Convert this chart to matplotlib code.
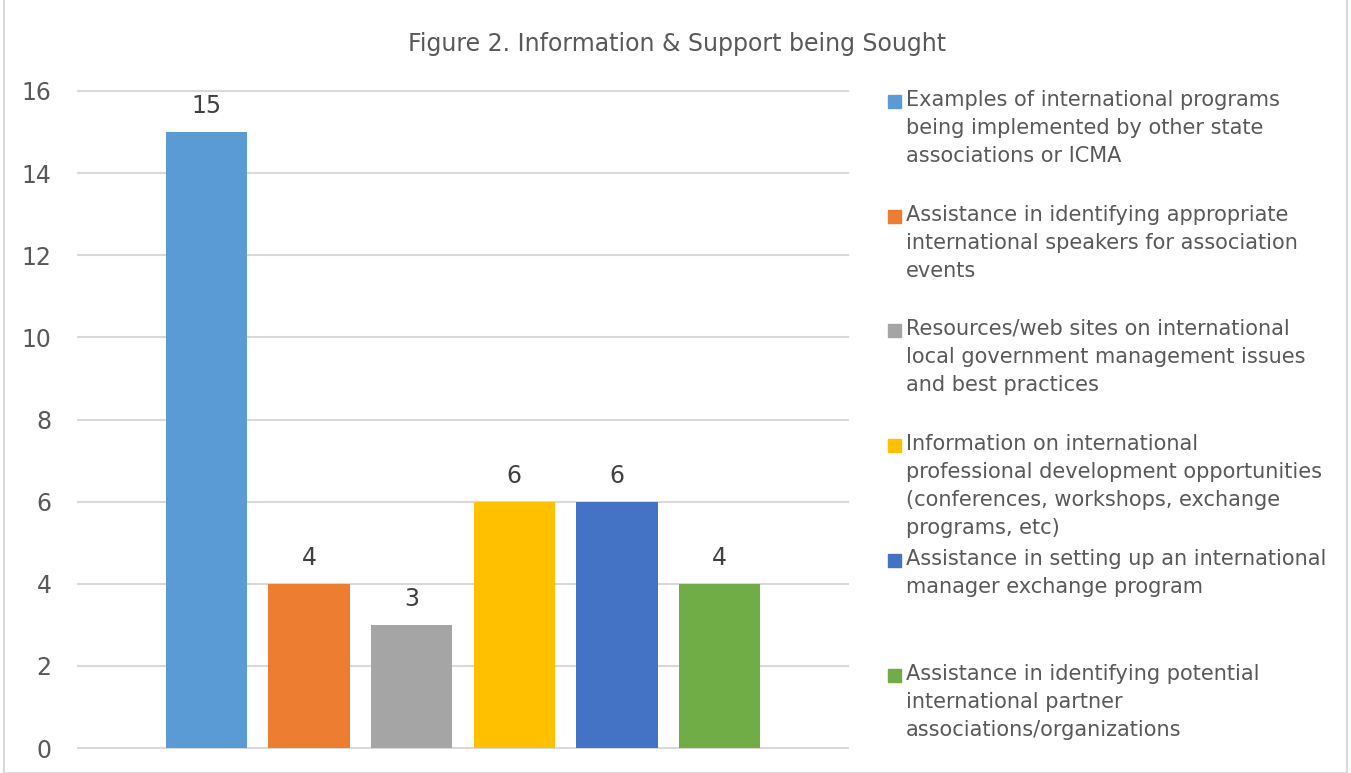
import matplotlib
matplotlib.use("Agg")
import matplotlib.pyplot as plt
from matplotlib.patches import Rectangle

# data
categories = [
    "Examples of international programs\nbeing implemented by other state\nassociations or ICMA",
    "Assistance in identifying appropriate\ninternational speakers for association\nevents",
    "Resources/web sites on international\nlocal government management issues\nand best practices",
    "Information on international\nprofessional development opportunities\n(conferences, workshops, exchange\nprograms, etc)",
    "Assistance in setting up an international\nmanager exchange program",
    "Assistance in identifying potential\ninternational partner\nassociations/organizations",
]
values = [15, 4, 3, 6, 6, 4]
colors = ["#5B9BD5", "#ED7D31", "#A5A5A5", "#FFC000", "#4472C4", "#70AD47"]
yticks = [0, 2, 4, 6, 8, 10, 12, 14, 16]

W, H = 1351, 773
txt = "#595959"
plt.rcParams['font.family'] = ['DejaVu Sans']

fig = plt.figure(figsize=(W / 100, H / 100), dpi=100)
ax = fig.add_axes([78 / W, (H - 748) / H, (848 - 78) / W, (748 - 91) / H])

x = list(range(len(values)))
bars = ax.bar(x, values, width=0.79, color=colors, zorder=3)
for b, v in zip(bars, values):
    ax.annotate(str(v), (b.get_x() + b.get_width() / 2, v), xytext=(0, 10),
                textcoords="offset points", ha="center", va="bottom",
                fontsize=17, color="#404040")

ax.set_xlim(-1.25, 6.25)
ax.set_ylim(0, 16)
ax.set_yticks(yticks)
ax.set_xticks([])
ax.yaxis.grid(True, color="#D9D9D9", linewidth=1.5, zorder=0)
for gl in ax.get_ygridlines():
    gl.set_clip_on(False)
ax.tick_params(axis="y", length=0, pad=19, labelsize=17, labelcolor=txt)
for s in ax.spines.values():
    s.set_visible(False)

fig.text(677 / W, 1 - 44 / H, "Figure 2. Information & Support being Sought",
         ha="center", va="center", fontsize=17, color=txt)

# legend drawn by hand so every entry starts on an even step
first_lines = [102, 217, 331, 446, 561, 676]
for lab, col, yy in zip(categories, colors, first_lines):
    fig.patches.append(Rectangle((888 / W, 1 - (yy + 6) / H), 13 / W, 13 / H,
                                 transform=fig.transFigure, color=col))
    fig.text(906 / W, 1 - (yy - 12) / H, lab, ha="left", va="top",
             fontsize=15, color=txt, linespacing=1.49)

# outer frame
fig.patches.append(Rectangle((4 / W, 0), (W - 8) / W, 1.2, transform=fig.transFigure,
                             fill=False, edgecolor="#D9D9D9", linewidth=1.5))

fig.savefig("out.png", dpi=100)
